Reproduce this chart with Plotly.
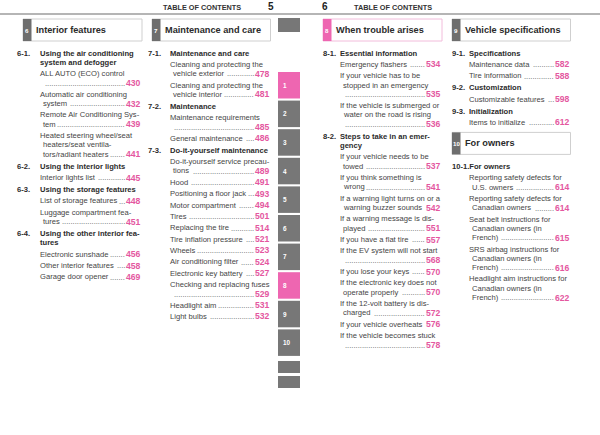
import plotly.graph_objects as go

# ---------------- data ----------------
header_labels = ["TABLE OF CONTENTS", "5", "6", "TABLE OF CONTENTS"]
chapter_nums = ["6", "7", "8", "9", "10"]
chapter_titles = ["Interior features", "Maintenance and care", "When trouble arises",
                  "Vehicle specifications", "For owners"]
side_tabs = ["", "1", "2", "3", "4", "5", "6", "7", "8", "9", "10", "", ""]
active_tabs = ["1", "8"]
active_chapter = "8"

ch6_sections = [
    ("6-1.", ["Using the air conditioning", "system and defogger"], [
        (["ALL AUTO (ECO) control", ""], 430),
        (["Automatic air conditioning", "system"], 432),
        (["Remote Air Conditioning Sys-", "tem"], 439),
        (["Heated steering wheel/seat", "heaters/seat ventila-", "tors/radiant heaters"], 441),
    ]),
    ("6-2.", ["Using the interior lights"], [
        (["Interior lights list"], 445),
    ]),
    ("6-3.", ["Using the storage features"], [
        (["List of storage features"], 448),
        (["Luggage compartment fea-", "tures"], 451),
    ]),
    ("6-4.", ["Using the other interior fea-", "tures"], [
        (["Electronic sunshade"], 456),
        (["Other interior features"], 458),
        (["Garage door opener"], 469),
    ]),
]

ch7_sections = [
    ("7-1.", ["Maintenance and care"], [
        (["Cleaning and protecting the", "vehicle exterior"], 478),
        (["Cleaning and protecting the", "vehicle interior"], 481),
    ]),
    ("7-2.", ["Maintenance"], [
        (["Maintenance requirements", ""], 485),
        (["General maintenance"], 486),
    ]),
    ("7-3.", ["Do-it-yourself maintenance"], [
        (["Do-it-yourself service precau-", "tions"], 489),
        (["Hood"], 491),
        (["Positioning a floor jack"], 493),
        (["Motor compartment"], 494),
        (["Tires"], 501),
        (["Replacing the tire"], 514),
        (["Tire inflation pressure"], 521),
        (["Wheels"], 523),
        (["Air conditioning filter"], 524),
        (["Electronic key battery"], 527),
        (["Checking and replacing fuses", ""], 529),
        (["Headlight aim"], 531),
        (["Light bulbs"], 532),
    ]),
]

ch8_sections = [
    ("8-1.", ["Essential information"], [
        (["Emergency flashers"], 534),
        (["If your vehicle has to be", "stopped in an emergency", ""], 535),
        (["If the vehicle is submerged or", "water on the road is rising", ""], 536),
    ]),
    ("8-2.", ["Steps to take in an emer-", "gency"], [
        (["If your vehicle needs to be", "towed"], 537),
        (["If you think something is", "wrong"], 541),
        (["If a warning light turns on or a", "warning buzzer sounds"], 542),
        (["If a warning message is dis-", "played"], 551),
        (["If you have a flat tire"], 557),
        (["If the EV system will not start", ""], 568),
        (["If you lose your keys"], 570),
        (["If the electronic key does not", "operate properly"], 570),
        (["If the 12-volt battery is dis-", "charged"], 572),
        (["If your vehicle overheats"], 576),
        (["If the vehicle becomes stuck", ""], 578),
    ]),
]

ch9_sections = [
    ("9-1.", ["Specifications"], [
        (["Maintenance data"], 582),
        (["Tire information"], 588),
    ]),
    ("9-2.", ["Customization"], [
        (["Customizable features"], 598),
    ]),
    ("9-3.", ["Initialization"], [
        (["Items to initialize"], 612),
    ]),
]

ch10_sections = [
    ("10-1.", ["For owners"], [
        (["Reporting safety defects for", "U.S. owners"], 614),
        (["Reporting safety defects for", "Canadian owners"], 614),
        (["Seat belt instructions for", "Canadian owners (in", "French)"], 615),
        (["SRS airbag instructions for", "Canadian owners (in", "French)"], 616),
        (["Headlight aim instructions for", "Canadian owners (in", "French)"], 622),
    ]),
]

# ---------------- style ----------------
FONT = "Liberation Sans, Arial, Helvetica, sans-serif"
TEXT_C = "#454545"
HEAD_C = "#2b2b2b"
PINK = "#e4579f"
TAB_PINK = "#ee66b1"
TAB_GRAY = "#777777"
BOX_TAB = "#6e6e6e"
BOX_LINE = "#cfcfcf"
BOX_LINE_PINK = "#f2bcdb"
BODY_FS = 7.6
HEAD_FS = 7.6
PAGE_FS = 8.6
TITLE_FS = 9.2

ENTRY_GAP = 11.35
WRAP = 9.3
HEAD_GAP = 12.0
CONT_INDENT = 3.3

# Arial / Liberation Sans advance widths (1/1000 em) used to place dot leaders
_W = {' ': 278, '(': 333, ')': 333, '-': 333, '.': 278, '/': 278,
      'A': 667, 'B': 667, 'C': 722, 'D': 722, 'E': 667, 'F': 611, 'G': 778, 'H': 722,
      'I': 278, 'J': 500, 'K': 667, 'L': 556, 'M': 833, 'N': 722, 'O': 778, 'P': 667,
      'Q': 778, 'R': 722, 'S': 667, 'T': 611, 'U': 722, 'V': 667, 'W': 944, 'X': 667,
      'Y': 667, 'Z': 611, 'a': 556, 'b': 556, 'c': 500, 'd': 556, 'e': 556, 'f': 278,
      'g': 556, 'h': 556, 'i': 222, 'j': 222, 'k': 500, 'l': 222, 'm': 833, 'n': 556,
      'o': 556, 'p': 556, 'q': 556, 'r': 333, 's': 500, 't': 278, 'u': 556, 'v': 500,
      'w': 722, 'x': 500, 'y': 500, 'z': 500}


def text_width(s, size):
    return sum(_W.get(ch, 556) for ch in s) / 1000.0 * size


columns = [
    dict(num_x=17, box_x0=23, box_x1=142, text_x=39.5, page_r=140.5),
    dict(num_x=148, box_x0=152, box_x1=270.5, text_x=169.5, page_r=269.5),
    dict(num_x=323, box_x0=323, box_x1=442, text_x=340, page_r=440.5),
    dict(num_x=452, box_x0=452, box_x1=570.5, text_x=469, page_r=569.5),
]

shapes = []
annotations = []


def txt(x, y, s, size, color, bold=False, anchor="left"):
    annotations.append(dict(x=x, y=y, xref="x", yref="y",
                            text=("<b>%s</b>" % s) if bold else s,
                            showarrow=False, xanchor=anchor, yanchor="middle",
                            font=dict(family=FONT, size=size, color=color),
                            borderpad=0, borderwidth=0))


def chapter_box(col, y0, y1, num, title):
    c = columns[col]
    active = (num == active_chapter)
    shapes.append(dict(type="rect", xref="x", yref="y", x0=c["box_x0"], x1=c["box_x1"],
                       y0=y0, y1=y1, fillcolor="white",
                       line=dict(color=BOX_LINE_PINK if active else BOX_LINE, width=1)))
    shapes.append(dict(type="rect", xref="x", yref="y", x0=c["box_x0"], x1=c["box_x0"] + 8.5,
                       y0=y0, y1=y1, fillcolor=TAB_PINK if active else BOX_TAB, line=dict(width=0)))
    txt(c["box_x0"] + 4.4, (y0 + y1) / 2, num, 6.2, "white", bold=True, anchor="center")
    txt(c["box_x0"] + 12.5, (y0 + y1) / 2, title, TITLE_FS, HEAD_C, bold=True)


def layout_sections(col, sections, y):
    c = columns[col]
    first = True
    for num, head_lines, entries in sections:
        if not first:
            y += HEAD_GAP
        first = False
        for i, line in enumerate(head_lines):
            if i > 0:
                y += WRAP
            if i == 0:
                if num.startswith("10"):
                    txt(c["num_x"], y, num + line, HEAD_FS, HEAD_C, bold=True)
                    continue
                txt(c["num_x"], y, num, HEAD_FS, HEAD_C, bold=True)
            txt(c["text_x"], y, line, HEAD_FS, HEAD_C, bold=True)
        for lines, page in entries:
            y += ENTRY_GAP
            for i, line in enumerate(lines):
                if i > 0:
                    y += WRAP
                x = c["text_x"] + (CONT_INDENT if i > 0 else 0)
                last = (i == len(lines) - 1)
                if line:
                    txt(x, y, line, BODY_FS, TEXT_C)
                if last:
                    pstr = str(page)
                    page_w = len(pstr) * 0.556 * PAGE_FS
                    x_end = c["page_r"] - page_w - 1.0
                    start = x + (text_width(line, BODY_FS) + 2.0 if line else 0)
                    n = int((x_end - start) / (0.278 * BODY_FS))
                    if n > 0:
                        txt(x_end, y + 0.3, "." * n, BODY_FS, "#5a5a5a", anchor="right")
                    txt(c["page_r"], y, pstr, PAGE_FS, PINK, bold=True, anchor="right")
    return y


# header line and labels
shapes.append(dict(type="line", xref="x", yref="y", x0=0, x1=600, y0=14, y1=14,
                   line=dict(color="#9c9c9c", width=1.6)))
txt(162.5, 7, header_labels[0], 7.3, "#333333", bold=True)
txt(271, 6.5, header_labels[1], 10, "#222222", bold=True, anchor="center")
txt(324.5, 6.5, header_labels[2], 10, "#222222", bold=True, anchor="center")
txt(353.5, 7, header_labels[3], 7.3, "#333333", bold=True)

# chapter boxes
for i in range(4):
    chapter_box(i, 19, 41, chapter_nums[i], chapter_titles[i])

# columns
START_Y = 53
layout_sections(0, ch6_sections, START_Y)
layout_sections(1, ch7_sections, START_Y)
layout_sections(2, ch8_sections, START_Y)
y_end = layout_sections(3, ch9_sections, START_Y)
box_top = y_end + 10
chapter_box(3, box_top, box_top + 22, chapter_nums[4], chapter_titles[4])
layout_sections(3, ch10_sections, box_top + 22 + 12)

# side index tabs
TAB_X0, TAB_X1 = 278, 300
for i, lab in enumerate(side_tabs):
    if i == 0:
        y0, y1 = 18, 32
    elif lab:
        y0 = 72 + (i - 1) * 28.6
        y1 = y0 + 26.5
    else:
        y0 = 361 + (i - 11) * 15
        y1 = y0 + 12
    col = TAB_PINK if lab in active_tabs else TAB_GRAY
    shapes.append(dict(type="rect", xref="x", yref="y", x0=TAB_X0, x1=TAB_X1, y0=y0, y1=y1,
                       fillcolor=col, line=dict(width=0)))
    if lab:
        txt(282.5, (y0 + y1) / 2, lab, 6.4, "white", bold=True)

fig = go.Figure()
fig.update_layout(
    width=600, height=435,
    margin=dict(l=0, r=0, t=0, b=0),
    paper_bgcolor="white", plot_bgcolor="white",
    xaxis=dict(range=[0, 600], visible=False, fixedrange=True),
    yaxis=dict(range=[435, 0], visible=False, fixedrange=True),
    shapes=shapes, annotations=annotations, showlegend=False,
)
fig.write_html("out.html", config=dict(displayModeBar=False),
               post_script="document.body.style.margin='0';document.body.style.overflow='hidden';")
